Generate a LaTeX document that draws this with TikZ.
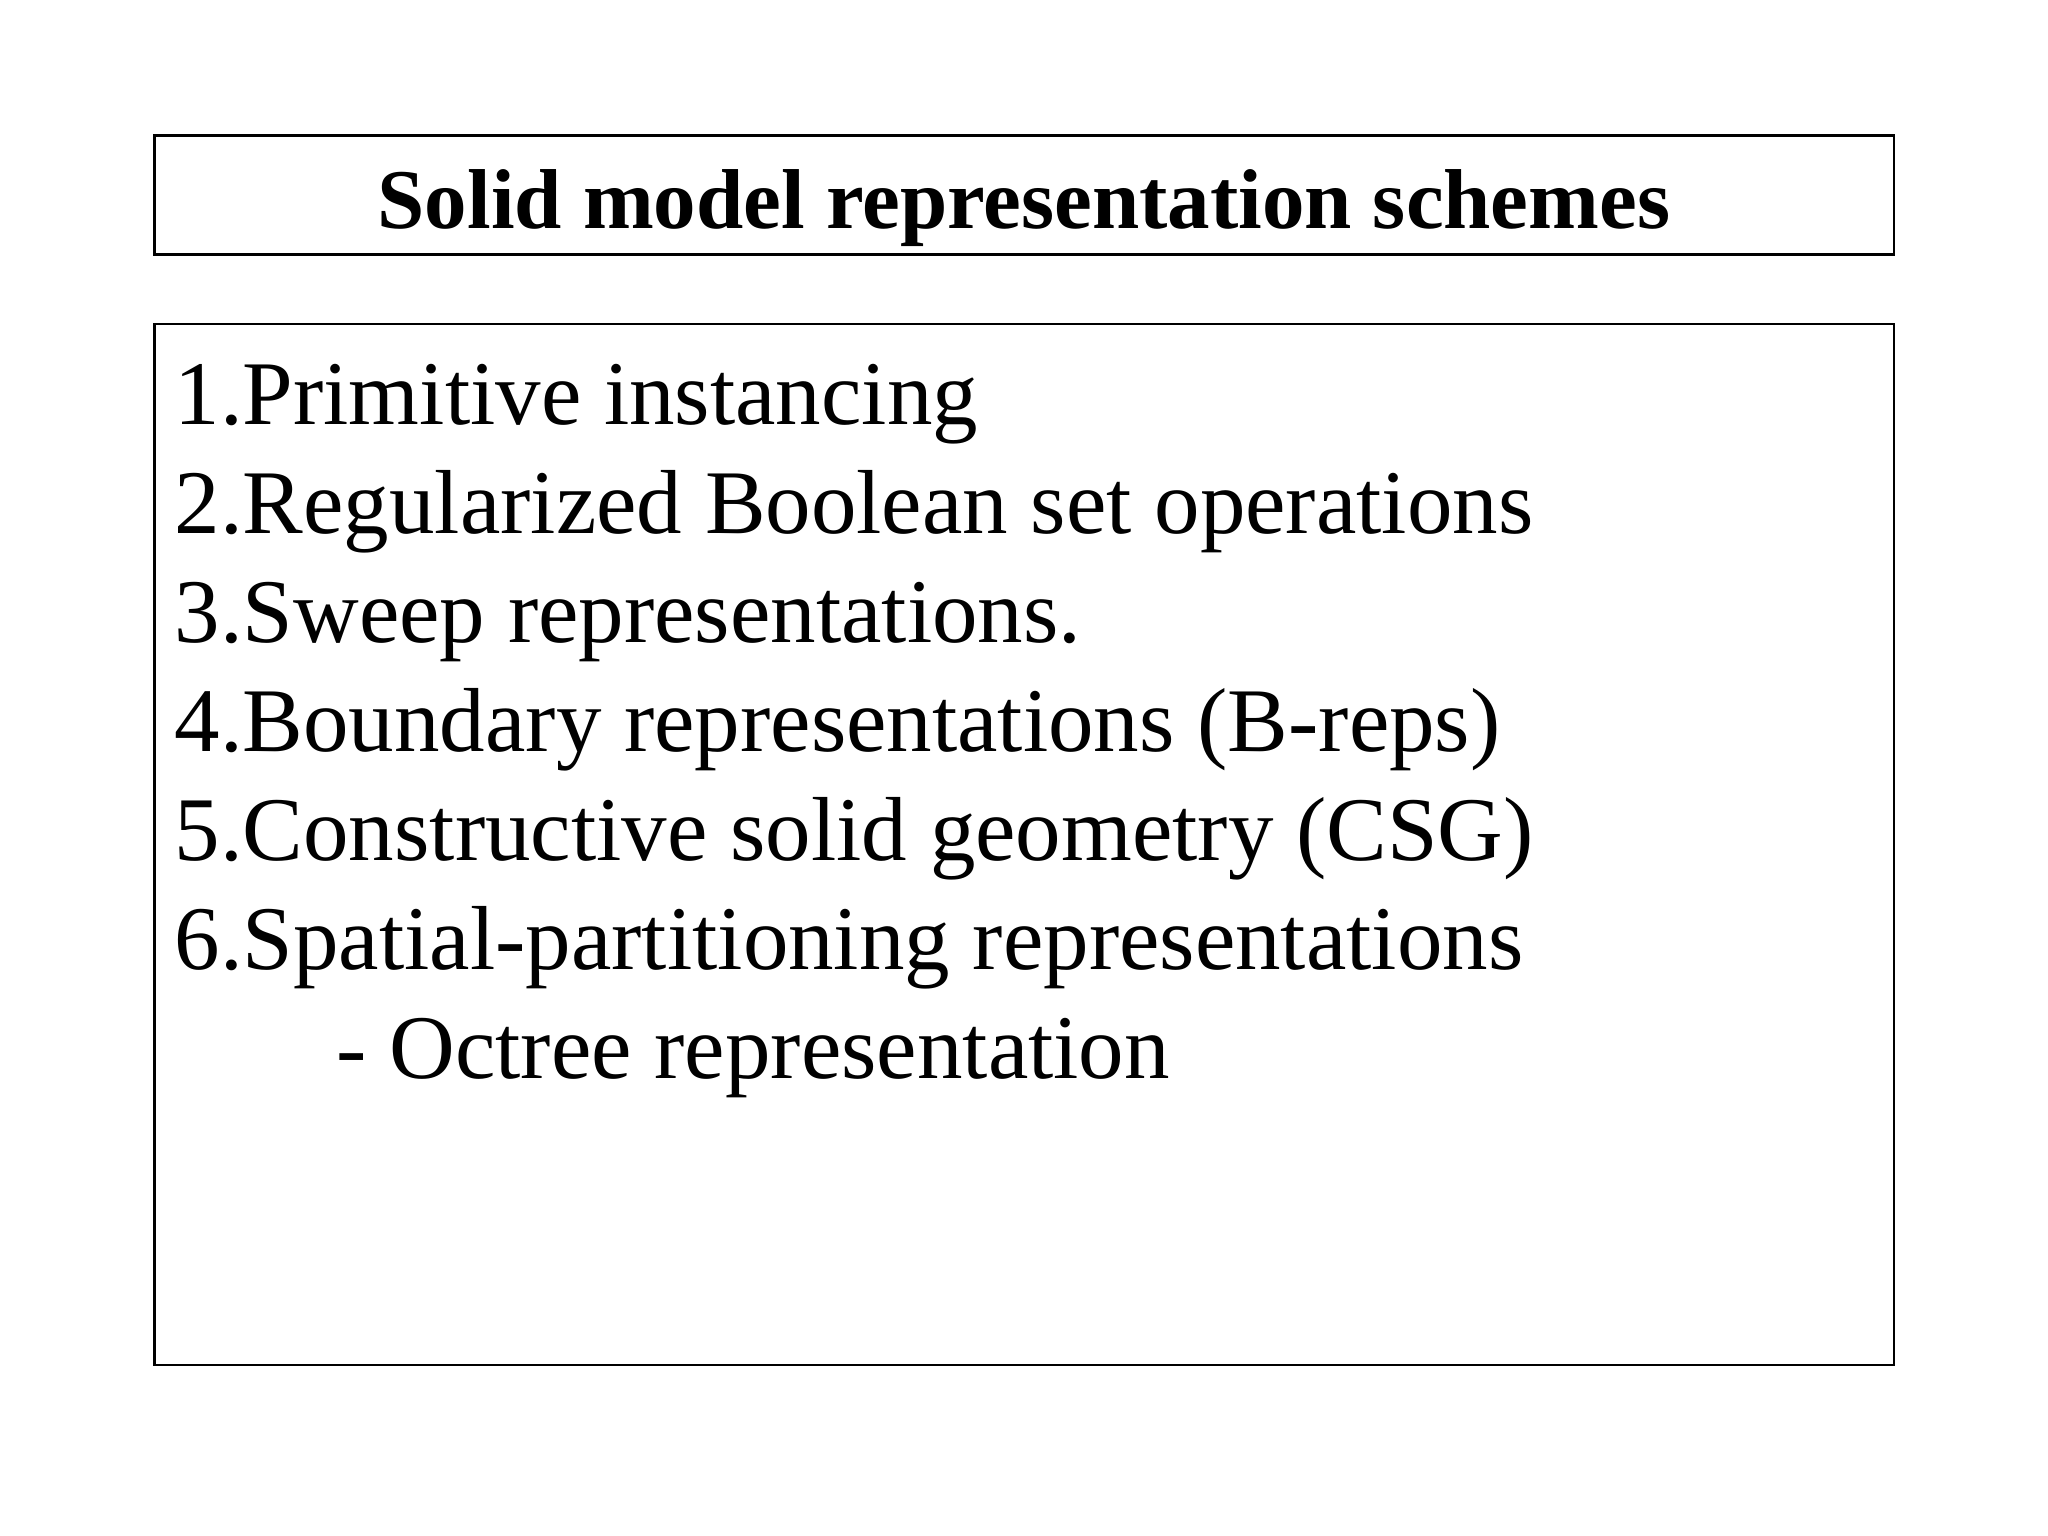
\documentclass[tikz,border=0pt]{standalone}
\usepackage{fontspec}
\setmainfont{Liberation Serif}
\begin{document}
\begin{tikzpicture}[x=0.01cm,y=-0.01cm,
  frame/.style={draw=black,line width=0.6pt},
  item/.style={anchor=base west,inner sep=0pt,font=\fontsize{19.8pt}{23pt}\selectfont}]
\useasboundingbox (0,0) rectangle (1568,1176);
\draw[frame] (118,104) rectangle (1450,195);
\node[anchor=base,inner sep=0pt,font=\fontsize{18.5pt}{22pt}\selectfont\bfseries] (title) at (784,175) {Solid model representation schemes};
\draw[frame] (118,248) rectangle (1450,1045);
\node[item] (i1) at (133,325) {1.Primitive instancing};
\node[item] (i2) at (133,408.5) {2.Regularized Boolean set operations};
\node[item] (i3) at (133,492) {3.Sweep representations.};
\node[item] (i4) at (133,575.5) {4.Boundary representations (B-reps)};
\node[item] (i5) at (133,659) {5.Constructive solid geometry (CSG)};
\node[item] (i6) at (133,742.5) {6.Spatial-partitioning representations};
\node[item] (i7) at (257,826) {- Octree representation};
\end{tikzpicture}
\end{document}
